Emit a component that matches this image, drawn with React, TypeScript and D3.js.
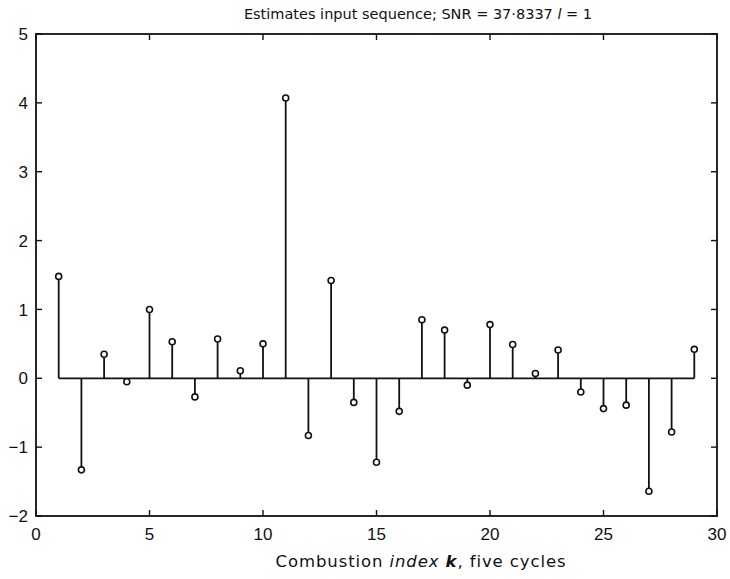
import React from "react";
import * as d3 from "d3";

// Estimated input sequence, one value per combustion index k = 1..29
const indices: number[] = d3.range(1, 30);
const estimates: number[] = [
  1.48, -1.33, 0.35, -0.05, 1.0, 0.53, -0.27, 0.57, 0.11, 0.5,
  4.07, -0.83, 1.42, -0.35, -1.22, -0.48, 0.85, 0.7, -0.1, 0.78,
  0.49, 0.07, 0.41, -0.2, -0.44, -0.39, -1.64, -0.78, 0.42,
];
const xTicks: number[] = [0, 5, 10, 15, 20, 25, 30];
const yTicks: number[] = [-2, -1, 0, 1, 2, 3, 4, 5];

const W = 730;
const H = 579;
const M = { left: 36, right: 13, top: 34, bottom: 63 };
const FONT = "'Liberation Sans', Arial, sans-serif";
const LABEL_FONT = "'DejaVu Sans', 'Liberation Sans', sans-serif";

export default function App() {
  const x = d3.scaleLinear().domain([0, 30]).range([M.left, W - M.right]);
  const y = d3.scaleLinear().domain([-2, 5]).range([H - M.bottom, M.top]);
  const r = 3;
  const tick = 6;
  const x0 = x.range()[0];
  const x1 = x.range()[1];
  const yTop = y.range()[1];
  const yBot = y.range()[0];
  const xMinor = d3.range(0, 31, 5);

  return (
    <svg
      width={W}
      height={H}
      style={{ position: "absolute", left: 0, top: 0, background: "#fff" }}
      fontFamily={FONT}
    >
      <rect x={0} y={0} width={W} height={H} fill="#fff" />
      {/* title */}
      <text
        x={418}
        y={19}
        textAnchor="middle"
        fontSize={14.5}
        fontFamily={LABEL_FONT}
        fill="#111"
      >
        Estimates input sequence; SNR = 37·8337{" "}
        <tspan fontStyle="italic">l</tspan> = 1
      </text>

      {/* frame */}
      <rect
        x={x0}
        y={yTop}
        width={x1 - x0}
        height={yBot - yTop}
        fill="none"
        stroke="#111"
        strokeWidth={1.8}
      />

      {/* y ticks on both sides */}
      {yTicks.map((v) => (
        <g key={"y" + v}>
          <line x1={x0} x2={x0 + tick} y1={y(v)} y2={y(v)} stroke="#111" strokeWidth={1.4} />
          <line x1={x1} x2={x1 - tick} y1={y(v)} y2={y(v)} stroke="#111" strokeWidth={1.4} />
          <text
            x={x0 - 8}
            y={y(v)}
            dy="0.36em"
            textAnchor="end"
            fontSize={17}
            fill="#111"
          >
            {v < 0 ? "\u2212" + Math.abs(v) : String(v)}
          </text>
        </g>
      ))}

      {/* x ticks on both sides */}
      {xMinor.map((v) => (
        <g key={"x" + v}>
          <line x1={x(v)} x2={x(v)} y1={yTop} y2={yTop + tick} stroke="#111" strokeWidth={1.4} />
          <line x1={x(v)} x2={x(v)} y1={yBot} y2={yBot - tick} stroke="#111" strokeWidth={1.4} />
        </g>
      ))}
      {xTicks.map((v) => (
        <text key={"xl" + v} x={x(v)} y={540} textAnchor="middle" fontSize={17} fill="#111">
          {v}
        </text>
      ))}

      {/* x axis title */}
      <text
        x={421}
        y={567}
        textAnchor="middle"
        fontSize={16.5}
        letterSpacing={0.9}
        fontFamily={LABEL_FONT}
        fill="#111"
      >
        Combustion <tspan fontStyle="italic">index</tspan>{" "}
        <tspan fontStyle="italic" fontWeight="bold">k</tspan>, five cycles
      </text>

      {/* baseline */}
      <line
        x1={x(indices[0])}
        x2={x(indices[indices.length - 1])}
        y1={y(0)}
        y2={y(0)}
        stroke="#111"
        strokeWidth={1.8}
      />

      {/* stems and markers */}
      {indices.map((k, i) => {
        const v = estimates[i];
        const cy = y(v);
        const end = v >= 0 ? cy + r : cy - r;
        return (
          <g key={"s" + k}>
            <line x1={x(k)} x2={x(k)} y1={y(0)} y2={end} stroke="#111" strokeWidth={1.8} />
            <circle cx={x(k)} cy={cy} r={r} fill="#fff" stroke="#111" strokeWidth={1.6} />
          </g>
        );
      })}
    </svg>
  );
}
